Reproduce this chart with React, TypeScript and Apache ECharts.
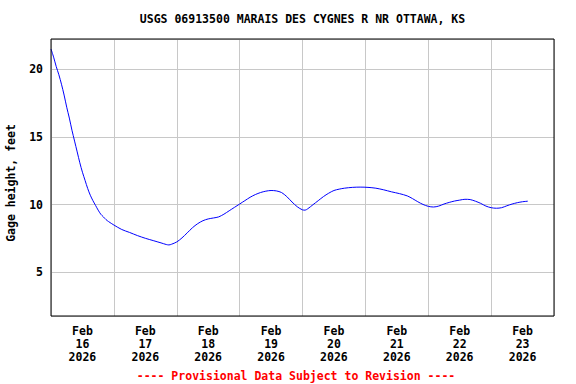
import React, { useEffect, useRef } from "react";
import * as echarts from "echarts";

// Hours since Feb 16 2026 00:00
const hours = [
  0, 1, 2, 3, 4, 5, 6, 7, 8, 9, 10, 11, 12, 13, 14, 15, 16, 17, 18, 19, 20, 21, 22, 24,
  27, 30, 33, 36, 39, 42, 44, 45, 46, 48, 50, 52, 54, 56, 58, 60, 62, 64, 66, 68, 70,
  72, 74, 76, 78, 80, 82, 84, 86, 88, 90, 92, 94, 96, 97, 98, 100, 102, 104, 106, 108,
  110, 112, 115, 118, 121, 124, 127, 130, 133, 136, 138, 140, 142, 144, 146, 148, 150,
  152, 154, 156, 158, 160, 162, 164, 166, 168, 170, 172, 174, 176, 178, 180, 182,
];
const gageHeight = [
  21.5, 20.9, 20.2, 19.6, 18.9, 18.1, 17.2, 16.4, 15.5, 14.7, 13.9, 13.1, 12.4, 11.8,
  11.2, 10.7, 10.3, 9.95, 9.6, 9.3, 9.1, 8.9, 8.75, 8.5, 8.17, 7.95, 7.72, 7.52, 7.35,
  7.18, 7.06, 7.03, 7.08, 7.25, 7.55, 7.92, 8.3, 8.6, 8.82, 8.95, 9.02, 9.1, 9.3, 9.55,
  9.8, 10.05, 10.3, 10.55, 10.75, 10.9, 11.0, 11.05, 11.02, 10.9, 10.6, 10.2, 9.85, 9.62,
  9.6, 9.7, 10.0, 10.3, 10.6, 10.85, 11.05, 11.15, 11.22, 11.28, 11.3, 11.28, 11.22,
  11.1, 10.95, 10.82, 10.65, 10.45, 10.22, 10.02, 9.88, 9.83, 9.9, 10.05, 10.17, 10.27,
  10.34, 10.4, 10.38, 10.26, 10.1, 9.9, 9.78, 9.74, 9.78, 9.92, 10.05, 10.15, 10.22,
  10.26,
];
const dayLabels = [
  "Feb\n16\n2026", "Feb\n17\n2026", "Feb\n18\n2026", "Feb\n19\n2026",
  "Feb\n20\n2026", "Feb\n21\n2026", "Feb\n22\n2026", "Feb\n23\n2026",
];
const yTicks = [5, 10, 15, 20];
const titleText = "USGS 06913500 MARAIS DES CYGNES R NR OTTAWA, KS";
const yName = "Gage height, feet";
const footText = "---- Provisional Data Subject to Revision ----";

const FONT = "'DejaVu Sans Mono', monospace";

export default function App() {
  const ref = useRef<HTMLDivElement>(null);
  useEffect(() => {
    if (!ref.current) return;
    const chart = echarts.init(ref.current, undefined, { renderer: "svg" });
    const data = hours.map((h, i) => [h, gageHeight[i]]);
    chart.setOption({
      animation: false,
      backgroundColor: "#ffffff",
      grid: {
        left: 51,
        top: 39,
        right: 22,
        bottom: 68,
        show: true,
        borderColor: "#000000",
        borderWidth: 1,
        backgroundColor: "transparent",
        z: 10,
      },
      xAxis: [
        {
          type: "value",
          min: 0,
          max: 192,
          interval: 24,
          axisLine: { show: false },
          axisTick: { show: false },
          axisLabel: { show: false },
          splitLine: { show: true, lineStyle: { color: "#c8c8c8", width: 1 } },
        },
        {
          type: "value",
          position: "bottom",
          min: 0,
          max: 192,
          interval: 12,
          axisLine: { show: false },
          axisTick: { show: false },
          splitLine: { show: false },
          axisLabel: {
            show: true,
            margin: 8,
            color: "#000",
            fontFamily: FONT,
            fontWeight: "bold",
            fontSize: 11.5,
            lineHeight: 13,
            align: "center",
            formatter: (v: number) => {
              if (v % 24 !== 12) return "";
              return dayLabels[Math.floor(v / 24)] ?? "";
            },
          },
        },
      ],
      yAxis: {
        type: "value",
        min: 1.78,
        max: 22.24,
        axisLine: { show: false },
        axisTick: { show: false },
        splitLine: { show: true, lineStyle: { color: "#c8c8c8", width: 1 } },
        axisLabel: {
          margin: 8,
          color: "#000",
          fontFamily: FONT,
          fontWeight: "bold",
          fontSize: 11.5,
          formatter: (v: number) => (yTicks.includes(v) ? String(v) : ""),
        },
      },
      graphic: [
        {
          type: "text",
          x: 302.5,
          y: 19,
          style: {
            text: titleText,
            fill: "#000",
            font: `bold 11.5px ${FONT}`,
            textAlign: "center",
            textVerticalAlign: "middle",
          },
        },
        {
          type: "text",
          x: 11,
          y: 183,
          rotation: Math.PI / 2,
          style: {
            text: yName,
            fill: "#000",
            font: `bold 11.5px ${FONT}`,
            textAlign: "center",
            textVerticalAlign: "middle",
          },
        },
        {
          type: "text",
          x: 296,
          y: 376,
          style: {
            text: footText,
            fill: "#ff0000",
            font: `bold 11.5px ${FONT}`,
            textAlign: "center",
            textVerticalAlign: "middle",
          },
        },
      ],
      series: [
        {
          type: "line",
          xAxisIndex: 0,
          data,
          smooth: 0.3,
          showSymbol: false,
          lineStyle: { color: "#0000ff", width: 1 },
        },
      ],
    });
    return () => chart.dispose();
  }, []);
  return (
    <div
      ref={ref}
      style={{ position: "fixed", left: 0, top: 0, width: 576, height: 384 }}
    />
  );
}
